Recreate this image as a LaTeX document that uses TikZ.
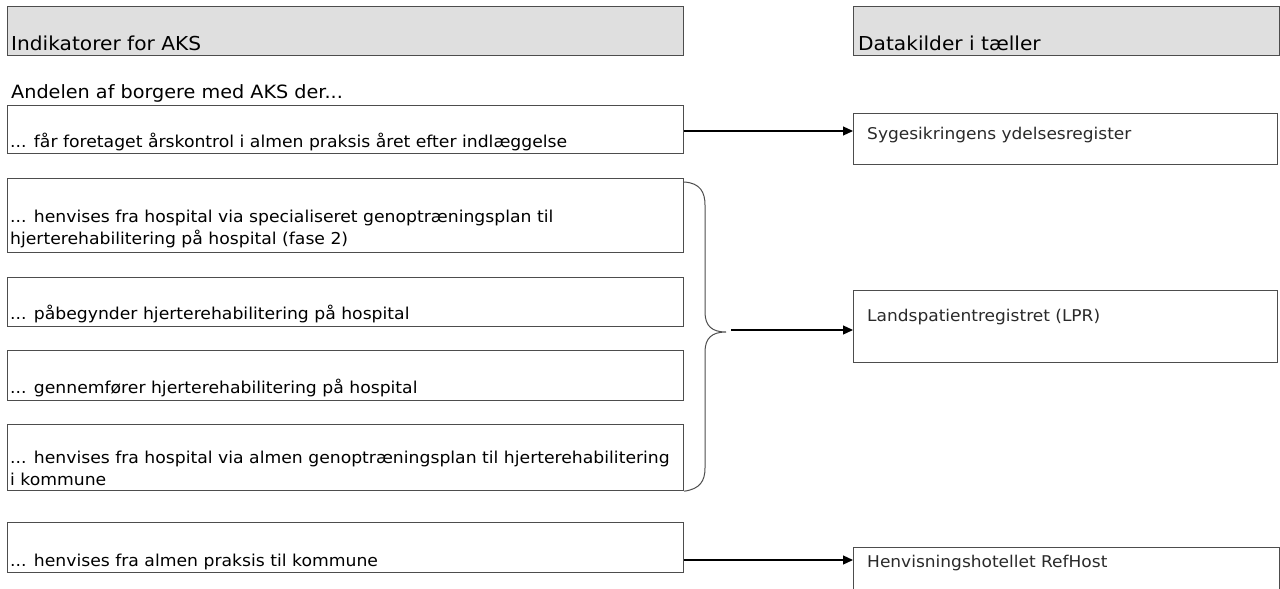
\documentclass[tikz,border=0pt]{standalone}
\usepackage{fontspec}
\setmainfont{DejaVu Sans}[FakeStretch=1.05]
\usetikzlibrary{arrows.meta}
\definecolor{boxline}{HTML}{4D4D4D}
\definecolor{headfill}{HTML}{DFDFDF}
\definecolor{righttext}{HTML}{2A2A2A}
\begin{document}
\begin{tikzpicture}[x=1pt,y=-1pt,
  box/.style={draw=boxline,line width=1.2pt,fill=white,anchor=north west,inner sep=0pt},
  headbox/.style={box,fill=headfill},
  bodytxt/.style={anchor=base west,inner sep=0pt,font=\fontsize{16.4}{19}\selectfont},
  headtxt/.style={anchor=base west,inner sep=0pt,font=\fontsize{19.2}{22}\selectfont},
  introtxt/.style={anchor=base west,inner sep=0pt,font=\fontsize{18.3}{21}\selectfont},
  righttxt/.style={anchor=base west,inner sep=0pt,text=righttext,font=\fontsize{16.2}{19}\selectfont},
  conn/.style={line width=1.2pt,-{Triangle[length=10pt,width=9pt]}},
  bracestyle/.style={draw=boxline,line width=1pt}]
\useasboundingbox (0,0) rectangle (1280,589);
\clip (0,0) rectangle (1280,589);
% headers
\node[headbox,minimum width=676pt,minimum height=49pt] (hl) at (7,6) {};
\node[headtxt] (hlt) at (11,50) {Indikatorer for AKS};
\node[headbox,minimum width=426pt,minimum height=49pt] (hr) at (853,6) {};
\node[headtxt] (hrt) at (858,50) {Datakilder i tæller};
\node[introtxt] (intro) at (11,98) {Andelen af borgere med AKS der...};
% left boxes
\node[box,minimum width=676pt,minimum height=48pt] (b1) at (7,105) {};
\node[bodytxt] (b1t) at (10,147) {... får foretaget årskontrol i almen praksis året efter indlæggelse};
\node[box,minimum width=676pt,minimum height=74pt] (b2) at (7,178) {};
\node[bodytxt] (b2t1) at (10,222) {... henvises fra hospital via specialiseret genoptræningsplan til};
\node[bodytxt] (b2t2) at (10,244) {hjerterehabilitering på hospital (fase 2)};
\node[box,minimum width=676pt,minimum height=49pt] (b3) at (7,277) {};
\node[bodytxt] (b3t) at (10,319) {... påbegynder hjerterehabilitering på hospital};
\node[box,minimum width=676pt,minimum height=50pt] (b4) at (7,350) {};
\node[bodytxt] (b4t) at (10,393) {... gennemfører hjerterehabilitering på hospital};
\node[box,minimum width=676pt,minimum height=66pt] (b5) at (7,424) {};
\node[bodytxt] (b5t1) at (10,463) {... henvises fra hospital via almen genoptræningsplan til hjerterehabilitering};
\node[bodytxt] (b5t2) at (10,485) {i kommune};
\node[box,minimum width=676pt,minimum height=50pt] (b6) at (7,522) {};
\node[bodytxt] (b6t) at (10,566) {... henvises fra almen praksis til kommune};
% right boxes
\node[box,minimum width=424pt,minimum height=51pt] (r1) at (853,113) {};
\node[righttxt] (r1t) at (867,139) {Sygesikringens ydelsesregister};
\node[box,minimum width=424pt,minimum height=72pt] (r2) at (853,290) {};
\node[righttxt] (r2t) at (867,321) {Landspatientregistret (LPR)};
\node[box,minimum width=426pt,minimum height=60pt] (r3) at (853,547) {};
\node[righttxt] (r3t) at (867,567) {Henvisningshotellet RefHost};
% brace
\coordinate (btip) at (726,332);
\draw[bracestyle] (b2.north east) ++(0,4) .. controls (700,183) and (705,192) .. (705,205)
  -- (705,312) .. controls (705,326) and (712,332) .. (btip)
  .. controls (712,332) and (705,338) .. (705,352)
  -- (705,468) .. controls (705,481) and (700,489) .. (b5.south east);
\coordinate (bstart) at (731,330);
% connectors
\draw[conn] (b1.east |- 0,131) -- (r1.west |- 0,131);
\draw[conn] (bstart) -- (r2.west |- bstart);
\draw[conn] (b6.east |- 0,560) -- (r3.west |- 0,560);
\end{tikzpicture}
\end{document}
